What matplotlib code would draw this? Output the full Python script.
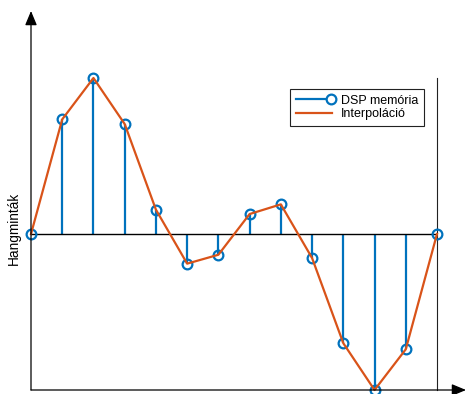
import matplotlib
matplotlib.use("Agg")
import matplotlib.pyplot as plt
from matplotlib.legend_handler import HandlerBase
from matplotlib.lines import Line2D
from matplotlib.patches import FancyArrowPatch
import numpy as np

plt.rcParams['font.family'] = ['Liberation Sans', 'DejaVu Sans']

# Stored samples (normalised amplitude)
sample_index = list(range(14))
samples = [0.0, 0.735, 1.0, 0.705, 0.156, -0.19, -0.133, 0.128, 0.19,
           -0.154, -0.70, -1.0, -0.739, 0.0]
series_labels = ["DSP memória", "Interpoláció"]
y_label = "Hangminták"

BLUE = "#0072BD"
ORANGE = "#D95319"

W, H = 468, 394
fig = plt.figure(figsize=(W / 100, H / 100), dpi=100)
left_px, right_px, top_px, bottom_px = 31, 437, 78, 390
ax = fig.add_axes([left_px / W, 1 - bottom_px / H,
                   (right_px - left_px) / W, (bottom_px - top_px) / H])

x = np.array(sample_index)
y = np.array(samples)

markerline, stemlines, baseline = ax.stem(x, y, basefmt="k-")
plt.setp(stemlines, color=BLUE, linewidth=1.6)
plt.setp(markerline, color=BLUE, marker="o", markersize=7,
         markerfacecolor="none", markeredgewidth=1.6, zorder=3)
plt.setp(baseline, color="black", linewidth=1.0)
markerline.set_clip_on(False)

ax.plot(x, y, color=ORANGE, linewidth=1.6, zorder=4, clip_on=False)

ax.set_xlim(0, 13)
ax.set_ylim(-1, 1)
ax.set_xticks([])
ax.set_yticks([])
for side in ("top", "left", "bottom"):
    ax.spines[side].set_visible(False)
ax.spines["right"].set_color("#222222")
ax.spines["right"].set_linewidth(0.8)

# Axis arrows
arrow_kw = dict(arrowstyle="-|>,head_length=0.72,head_width=0.3",
                color="black", lw=0.9, mutation_scale=12,
                shrinkA=0, shrinkB=0)
fig.add_artist(FancyArrowPatch((left_px, H - bottom_px), (left_px, H - 11),
                               transform=None, **arrow_kw))
fig.add_artist(FancyArrowPatch((left_px, H - bottom_px), (466, H - bottom_px),
                               transform=None, **arrow_kw))

fig.text(14 / W, 1 - 228 / H, y_label, rotation=90, ha="center",
         va="center", fontsize=9.8)


class StemLegendHandler(HandlerBase):
    """Legend key: a stem line with the open marker at its right end."""
    def create_artists(self, legend, orig_handle, xdescent, ydescent,
                       width, height, fontsize, trans):
        yc = height / 2 - ydescent
        x0, x1 = -xdescent, width - xdescent
        line = Line2D([x0, x1], [yc, yc], color=orig_handle.get_color(),
                      linewidth=orig_handle.get_linewidth())
        mk = Line2D([x1 - 1], [yc], linestyle="none",
                    marker=orig_handle.get_marker(),
                    markersize=orig_handle.get_markersize(),
                    markerfacecolor="white",
                    markeredgecolor=orig_handle.get_color(),
                    markeredgewidth=orig_handle.get_markeredgewidth())
        line.set_transform(trans)
        mk.set_transform(trans)
        return [line, mk]


h_stem = Line2D([], [], color=BLUE, linewidth=1.6, marker="o", markersize=7,
                markerfacecolor="none", markeredgewidth=1.6)
h_line = Line2D([], [], color=ORANGE, linewidth=1.6)
leg = ax.legend([h_stem, h_line], series_labels, loc="upper right",
                bbox_to_anchor=(424 / W, 1 - 89 / H),
                bbox_transform=fig.transFigure, borderaxespad=0,
                fontsize=9, fancybox=False, framealpha=1,
                edgecolor="#222222", handlelength=2.9, handletextpad=0.7,
                borderpad=0.45, labelspacing=0.12, numpoints=1,
                handler_map={h_stem: StemLegendHandler()})
leg.get_frame().set_linewidth(0.8)

fig.savefig("out.png", dpi=100)
